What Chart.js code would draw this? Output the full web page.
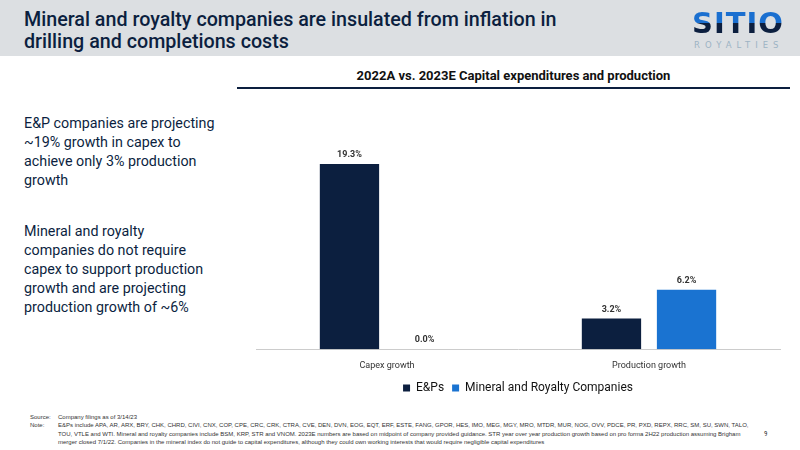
<!DOCTYPE html>
<html><head><meta charset="utf-8">
<script src="https://cdn.jsdelivr.net/npm/chart.js@4/dist/chart.umd.min.js"></script>
<style>
body{margin:0;width:800px;height:450px;position:relative;font-family:"Liberation Sans Narrow","Roboto Condensed",Roboto,sans-serif;background:#fff;overflow:hidden}
#hdr{position:absolute;left:0;top:0;width:800px;height:56px;background:#dcdfe2}
#title{position:absolute;left:24px;top:9px;font-family:Roboto,sans-serif;font-size:19.7px;line-height:22px;color:#0c1f3f;font-weight:500}
#logo{position:absolute;left:692px;top:8px;font-family:"DejaVu Sans",sans-serif;font-weight:900;font-size:29px;letter-spacing:1px;line-height:30px;background:linear-gradient(#1a6fd0 50%,#0c1f3f 50%);-webkit-background-clip:text;background-clip:text;color:transparent}
#logo2{position:absolute;left:694px;top:40px;font-family:"DejaVu Sans",sans-serif;font-size:8.5px;color:#9cb3c4;letter-spacing:5px}
#ctitle{position:absolute;left:237px;top:68px;width:553px;text-align:center;font-family:Roboto,sans-serif;font-weight:bold;font-size:13px;color:#111;border-bottom:2px solid #0c1f3f;padding-bottom:4px}
.side{position:absolute;left:24px;font-family:Roboto,sans-serif;font-size:14.3px;line-height:19px;color:#0c1f3f;white-space:nowrap}
#foot{position:absolute;left:30px;top:413px;font-size:6px;line-height:8.3px;color:#333;font-family:"Liberation Sans Narrow",sans-serif;width:760px}
#pg{position:absolute;left:764px;top:430px;font-size:7px;color:#333}
#wrap{position:absolute;left:240px;top:95px;width:550px;height:309px}
</style></head><body>
<div id="hdr"></div>
<div id="title">Mineral and royalty companies are insulated from inflation in<br>drilling and completions costs</div>
<div id="logo">SITIO</div><div id="logo2">ROYALTIES</div>
<div id="ctitle">2022A vs. 2023E Capital expenditures and production</div>
<div class="side" style="top:114px">E&amp;P companies are projecting<br>~19% growth in capex to<br>achieve only 3% production<br>growth</div>
<div class="side" style="top:222px">Mineral and royalty<br>companies do not require<br>capex to support production<br>growth and are projecting<br>production growth of ~6%</div>
<div id="foot"><span style="display:inline-block;width:28px">Source:</span>Company filings as of 3/14/23<br><span style="display:inline-block;width:28px;vertical-align:top">Note:</span><span style="display:inline-block;width:700px;vertical-align:top">E&amp;Ps include APA, AR, ARX, BRY, CHK, CHRD, CIVI, CNX, COP, CPE, CRC, CRK, CTRA, CVE, DEN, DVN, EOG, EQT, ERF, ESTE, FANG, GPOR, HES, IMO, MEG, MGY, MRO, MTDR, MUR, NOG, OVV, PDCE, PR, PXD, REPX, RRC, SM, SU, SWN, TALO, TOU, VTLE and WTI. Mineral and royalty companies include BSM, KRP, STR and VNOM. 2023E numbers are based on midpoint of company provided guidance. STR year over year production growth based on pro forma 2H22 production assuming Brigham merger closed 7/1/22. Companies in the mineral index do not guide to capital expenditures, although they could own working interests that would require negligible capital expenditures</span></div>
<div id="pg">9</div>
<div id="wrap"><canvas id="c"></canvas></div>
<script>
const categories=["Capex growth","Production growth"];
const seriesNames=["E&Ps","Mineral and Royalty Companies"];
const epValues=[19.3,3.2];
const mineralValues=[0.0,6.2];
const labelsPlugin={id:'vl',afterDatasetsDraw(ch){const c=ch.ctx;c.save();c.font='bold 9px Roboto';c.fillStyle='#333';c.textAlign='center';
ch.data.datasets.forEach((d,i)=>{ch.getDatasetMeta(i).data.forEach((b,j)=>{c.fillText(d.data[j].toFixed(1)+'%',b.x,b.y-9);});});c.restore();}};
new Chart(document.getElementById('c'),{type:'bar',
data:{labels:categories,datasets:[
{label:seriesNames[0],data:epValues,backgroundColor:'#0c1f3f',categoryPercentage:0.573,barPercentage:0.79},
{label:seriesNames[1],data:mineralValues,backgroundColor:'#1a73d1',categoryPercentage:0.573,barPercentage:0.79}]},
options:{responsive:true,maintainAspectRatio:false,animation:false,
layout:{padding:{top:69,left:16,right:10}},
scales:{y:{display:false,min:0,max:19.3},
x:{grid:{display:false},border:{color:'#ccc'},ticks:{color:'#333',font:{size:9,family:'Roboto'}}}},
plugins:{tooltip:{enabled:false},legend:{position:'bottom',labels:{boxWidth:7,boxHeight:7,color:'#111',font:{size:12,family:'Roboto'},padding:8}}}},
plugins:[labelsPlugin]});
</script></body></html>
